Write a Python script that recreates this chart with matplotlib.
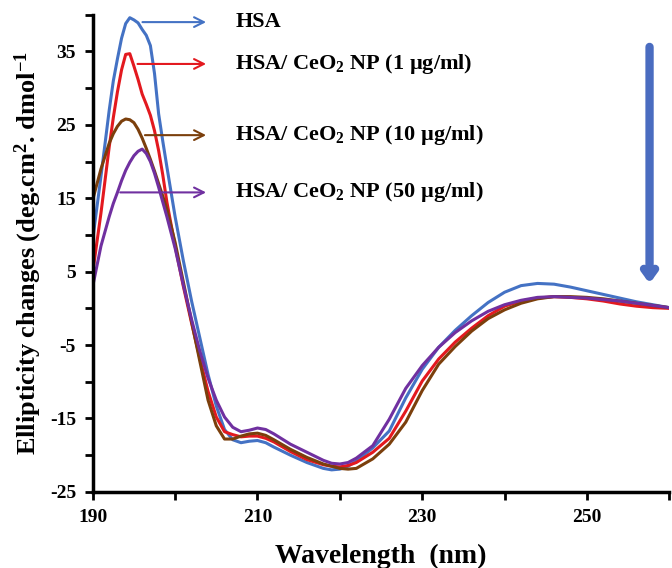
import numpy as np
import matplotlib
matplotlib.use("Agg")
import matplotlib.pyplot as plt

plt.rcParams['font.family'] = ['Liberation Serif', 'DejaVu Serif']
plt.rcParams['font.weight'] = 'bold'
plt.rcParams['mathtext.fontset'] = 'custom'
plt.rcParams['mathtext.rm'] = 'Liberation Serif:bold'
plt.rcParams['mathtext.bf'] = 'Liberation Serif:bold'
plt.rcParams['mathtext.default'] = 'bf'

# Wavelength grid (nm)
wavelength = [190, 191, 192, 192.5, 193, 193.5, 194, 194.5, 195, 195.5, 196, 196.5,
              197, 197.5, 198, 198.5, 199, 200, 201, 202,
              203, 204, 205, 206, 207, 208, 209, 210, 211, 212, 214, 216, 218,
              219, 220, 221, 222, 224, 226, 228, 230, 232, 234, 236, 238, 240,
              242, 244, 246, 248, 250, 252, 254, 256, 258, 260]

hsa = [9.4, 18, 27, 31.0, 34, 36.8, 38.8, 39.6, 39.3, 38.9, 38.0, 37.2,
       35.8, 32.0, 26.5, 22.8, 19.3, 12.5, 6.5, 1.0,
       -4.0, -9.0, -13.3, -16.5, -17.9, -18.3, -18.1, -18.0, -18.3, -18.9, -20.0, -21.0, -21.8,
       -22.0, -21.9, -21.5, -20.8, -19.0, -16.7, -12.2, -8.3, -5.3, -3.0, -1.0, 0.8, 2.2,
       3.1, 3.4, 3.3, 2.9, 2.4, 1.9, 1.4, 0.9, 0.5, 0.1]

ceo2_1 = [4.9, 13, 22, 26.0, 29.5, 32.5, 34.6, 34.7, 33.0, 31.2, 29.2, 27.8,
          26.3, 24.2, 21.5, 18.2, 14.5, 8.5, 3.0, -2.0,
          -6.8, -11.3, -14.8, -16.8, -17.2, -17.5, -17.4, -17.4, -17.7, -18.2, -19.5, -20.6, -21.3,
          -21.5, -21.6, -21.4, -21.0, -19.6, -17.7, -14.0, -9.9, -6.9, -4.6, -2.7, -1.0, 0.3,
          1.0, 1.4, 1.6, 1.5, 1.3, 1.0, 0.6, 0.3, 0.1, 0.0]

ceo2_10 = [14.8, 19.0, 22.5, 23.8, 24.8, 25.5, 25.8, 25.7, 25.3, 24.4, 23.2, 21.8,
           20.3, 18.7, 17.0, 15.3, 13.5, 9.0, 3.6, -1.8,
           -7.2, -12.5, -16.0, -17.8, -17.8, -17.4, -17.1, -17.0, -17.3, -17.9, -19.2, -20.3, -21.2,
           -21.5, -21.8, -21.9, -21.8, -20.5, -18.5, -15.5, -11.2, -7.6, -5.2, -3.1, -1.4, -0.2,
           0.7, 1.3, 1.6, 1.6, 1.5, 1.3, 1.0, 0.7, 0.4, 0.1]

ceo2_50 = [3.0, 8.5, 12.5, 14.3, 15.8, 17.4, 18.8, 19.9, 20.8, 21.4, 21.7, 21.1,
           20.0, 18.4, 16.5, 14.5, 12.5, 8.2, 3.2, -1.5,
           -5.8, -9.5, -12.5, -14.8, -16.2, -16.8, -16.6, -16.3, -16.5, -17.1, -18.5, -19.6, -20.7,
           -21.1, -21.2, -21.0, -20.4, -18.7, -15.1, -10.9, -7.8, -5.3, -3.3, -1.7, -0.4, 0.5,
           1.1, 1.5, 1.6, 1.5, 1.4, 1.2, 1.0, 0.7, 0.4, 0.1]

labels = ["HSA",
          "HSA/ CeO$_2$ NP (1 µg/ml)",
          "HSA/ CeO$_2$ NP (10 µg/ml)",
          "HSA/ CeO$_2$ NP (50 µg/ml)"]
colors = ['#4472c4', '#e3191f', '#7b3f0c', '#7030a0']
series = [hsa, ceo2_1, ceo2_10, ceo2_50]
# where each label arrow starts (wavelength, ellipticity)
arrow_start = [(195.7, 39.0), (195.1, 33.3), (196.0, 23.6), (193.0, 15.8)]

fig = plt.figure(figsize=(6.72, 5.68), dpi=100)
ax = fig.add_axes([0.138, 0.134, 0.858, 0.840])

for y, c in zip(series, colors):
    ax.plot(wavelength, y, color=c, lw=2.2, solid_joinstyle='round')

for (x0, y0), c, lab in zip(arrow_start, colors, labels):
    ax.annotate('', xy=(204.1, y0), xytext=(x0, y0),
                arrowprops=dict(arrowstyle='->, head_length=0.7, head_width=0.35',
                                color=c, lw=1.5))
    ax.text(207.3, y0, lab, fontsize=16, fontweight='bold', va='center', ha='left')

# big downward arrow
ax.annotate('', xy=(257.6, 3.0), xytext=(257.6, 36.0),
            arrowprops=dict(arrowstyle='->, head_length=0.55, head_width=0.4',
                            color='#4a6cc0', lw=6))

ax.set_xlim(190, 260)
ax.set_ylim(-25, 40)
ax.set_xticks(np.arange(190, 261, 10))
ax.set_xticklabels([str(v) if v in (190, 210, 230, 250) else '' for v in range(190, 261, 10)])
ax.set_yticks(np.arange(-25, 41, 5))
ax.set_yticklabels([str(v) if (v + 25) % 10 == 0 else '' for v in range(-25, 41, 5)])
ax.tick_params(direction='out', length=6, width=2, labelsize=14, pad=6)
for lab in ax.get_xticklabels() + ax.get_yticklabels():
    lab.set_fontweight('bold')

ax.spines['top'].set_visible(False)
ax.spines['right'].set_visible(False)
ax.spines['left'].set_linewidth(2.5)
ax.spines['bottom'].set_linewidth(2.5)

ax.set_xlabel("Wavelength  (nm)", fontsize=20, fontweight='bold', labelpad=13)
ax.set_ylabel("Ellipticity changes (deg.cm$^2$. dmol$^{-1}$", fontsize=19,
              fontweight='bold', labelpad=4)

fig.savefig("out.png", dpi=100)
